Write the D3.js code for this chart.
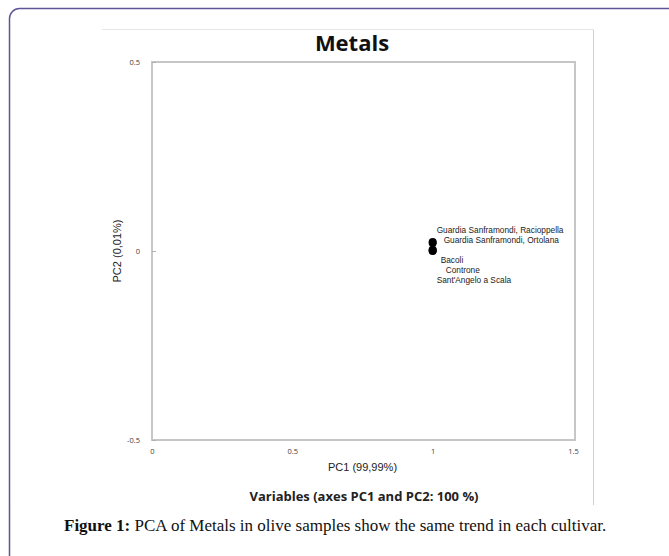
<!DOCTYPE html>
<html>
<head>
<meta charset="utf-8">
<script src="https://cdn.jsdelivr.net/npm/d3@7"></script>
<style>
  body { margin: 0; background: #fff; }
  svg text { font-family: "Open Sans", "Liberation Sans", sans-serif; }
</style>
</head>
<body>
<div id="chart"></div>
<script>
var width = 669, height = 556;

// Data
var samples = ["Guardia Sanframondi, Racioppella", "Guardia Sanframondi, Ortolana", "Bacoli", "Controne", "Sant'Angelo a Scala"];
var pc1 = [1, 1, 1, 1, 1];
var pc2 = [0.024, 0.021, 0.003, 0.001, 0.0];
var xTicks = [0, 0.5, 1, 1.5];
var yTicks = [-0.5, 0, 0.5];

// hand placed label offsets (px from the point), like the original
var labelDx = [4, 11, 8, 13, 4];
var labelDy = [-9, 0, 13, 22.5, 32];

var margin = {top: 62, right: 96, bottom: 116, left: 152};

var svg = d3.select("#chart")
  .append("svg")
  .attr("width", width)
  .attr("height", height);

// outer page frame
svg.append("rect")
  .attr("x", 9.5)
  .attr("y", 8.5)
  .attr("width", 700)
  .attr("height", 600)
  .attr("rx", 10)
  .attr("fill", "none")
  .attr("stroke", "#5e5596")
  .attr("stroke-width", 1.5);

// picture frame
svg.append("line")
  .attr("x1", 102).attr("x2", 593.5)
  .attr("y1", 29.5).attr("y2", 29.5)
  .style("stroke", "#e6e6e6");
svg.append("line")
  .attr("x1", 593.5).attr("x2", 593.5)
  .attr("y1", 29.5).attr("y2", 505)
  .style("stroke", "#d2d2d2");

var xScale = d3.scaleLinear()
  .domain([0, 1.5])
  .range([margin.left, width - margin.right]);

var yScale = d3.scaleLinear()
  .domain([-0.5, 0.5])
  .range([height - margin.bottom, margin.top]);

// plot box
svg.append("rect")
  .attr("x", xScale(0))
  .attr("y", yScale(0.5))
  .attr("width", xScale(1.5) - xScale(0) + 2)
  .attr("height", yScale(-0.5) - yScale(0.5))
  .attr("fill", "none")
  .style("stroke", "#c6c6c6")
  .style("stroke-width", 2);

// Y axis
svg.append("g")
  .attr("transform", `translate(${xScale(0)},0)`)
  .attr("class", "y-axis")
  .call(d3.axisLeft(yScale).tickValues(yTicks).tickSize(4).tickSizeOuter(0).tickFormat(d => String(d)))
  .call(g => g.select(".domain").remove())
  .call(g => g.selectAll(".tick line").attr("x2", 4).style("stroke", "#b0b0b0"))
  .call(g => g.selectAll(".tick text")
    .attr("x", -12)
    .style("font-size", "7.5px")
    .style("fill", "#404040"));

// X axis
svg.append("g")
  .attr("transform", `translate(0,${yScale(-0.5)})`)
  .attr("class", "x-axis")
  .call(d3.axisBottom(xScale).tickValues(xTicks).tickSize(0).tickFormat(d => String(d)))
  .call(g => g.select(".domain").remove())
  .call(g => g.selectAll(".tick text")
    .attr("y", 9)
    .style("font-size", "7.5px")
    .style("fill", "#404040"));

// title
svg.append("text")
  .attr("x", 352)
  .attr("y", 51)
  .attr("text-anchor", "middle")
  .style("font-size", "22px")
  .style("font-weight", "bold")
  .style("fill", "#111")
  .text("Metals");

// axis titles
svg.append("text")
  .attr("x", (xScale(0) + xScale(1.5)) / 2)
  .attr("y", 471)
  .attr("text-anchor", "middle")
  .style("font-family", "'Liberation Sans', Arial, sans-serif")
  .style("font-size", "11px")
  .style("fill", "#222")
  .text("PC1 (99,99%)");

svg.append("text")
  .attr("transform", `translate(${121},${yScale(0)}) rotate(-90)`)
  .attr("text-anchor", "middle")
  .style("font-family", "'Liberation Sans', Arial, sans-serif")
  .style("font-size", "11px")
  .style("fill", "#222")
  .text("PC2 (0,01%)");

// points
var pts = samples.map((s, i) => ({name: s, x: pc1[i], y: pc2[i], dx: labelDx[i], dy: labelDy[i]}));

svg.append("g")
  .selectAll("circle")
  .data(pts)
  .enter()
  .append("circle")
  .attr("cx", d => xScale(d.x))
  .attr("cy", d => yScale(d.y))
  .attr("r", 4)
  .style("fill", "#000");

svg.append("g")
  .selectAll("text")
  .data(pts)
  .enter()
  .append("text")
  .attr("x", d => xScale(d.x) + d.dx)
  .attr("y", d => yScale(d.y) + d.dy)
  .style("font-family", "'Liberation Sans', Arial, sans-serif")
  .style("font-size", "8.3px")
  .style("fill", "#222")
  .text(d => d.name);

// subtitle below chart
svg.append("text")
  .attr("x", 364)
  .attr("y", 501)
  .attr("text-anchor", "middle")
  .style("font-size", "13px")
  .style("font-weight", "bold")
  .style("fill", "#222")
  .text("Variables (axes PC1 and PC2: 100 %)");

// figure caption
var cap = svg.append("text")
  .attr("x", 64)
  .attr("y", 531)
  .style("font-family", "'Liberation Serif', 'DejaVu Serif', serif")
  .style("font-size", "17px")
  .style("fill", "#111");
cap.append("tspan").style("font-weight", "bold").text("Figure 1:");
cap.append("tspan").text(" PCA of Metals in olive samples show the same trend in each cultivar.");
</script>
</body>
</html>
